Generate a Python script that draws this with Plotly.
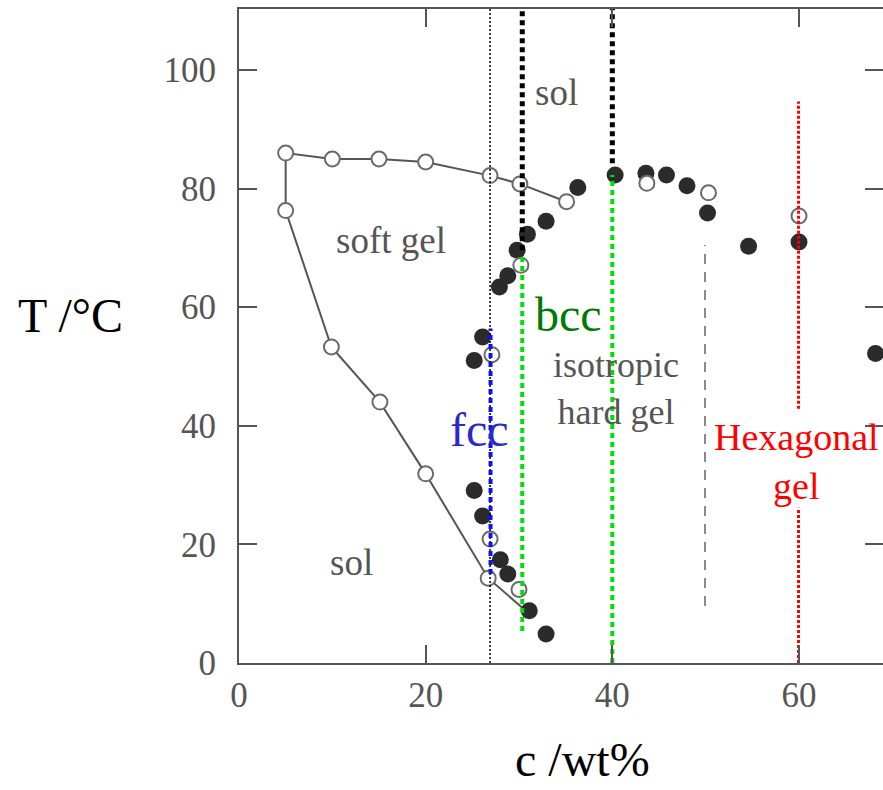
import plotly.graph_objects as go

# ---------------- data ----------------
# connected boundary curve (soft gel region): upper branch then lower branch
upper_c = [35.1, 30.1, 26.9, 20.0, 15.0, 10.0, 5.0]
upper_T = [77.8, 80.8, 82.2, 84.5, 85.0, 85.0, 86.0]
lower_c = [5.0, 9.9, 15.1, 20.0, 26.7, 30.6]
lower_T = [76.3, 53.3, 44.0, 31.9, 14.3, 9.0]

# open circles
open_c = [5.0, 10.0, 15.0, 20.0, 26.9, 30.1, 35.1,
          5.0, 9.9, 15.1, 20.0, 26.7,
          27.1, 26.9, 30.0, 30.2, 43.7, 50.3, 60.0]
open_T = [86.0, 85.0, 85.0, 84.5, 82.2, 80.8, 77.8,
          76.3, 53.3, 44.0, 31.9, 14.3,
          52.0, 20.9, 12.4, 67.1, 80.9, 79.3, 75.4]

# filled circles
fill_c = [25.2, 26.1, 25.2, 26.1, 28.0, 28.8, 31.1, 32.9,
          27.9, 28.8, 29.8, 30.9, 32.9, 36.3, 40.3, 43.6, 45.8,
          48.0, 50.2, 54.6, 60.0, 68.2]
fill_T = [51.0, 55.0, 29.1, 24.8, 17.4, 15.0, 8.8, 4.9,
          63.4, 65.3, 69.6, 72.3, 74.5, 80.2, 82.3, 82.6, 82.3,
          80.5, 75.9, 70.3, 71.0, 52.2]

# vertical phase-boundary markers: (c, T_low, T_high)
thin_black = [(26.9, 0.0, 110.3)]
thick_black = [(30.35, 69.6, 110.3), (40.0, 84.3, 110.3)]
green_bcc = [(30.35, 5.4, 68.8), (40.0, 0.0, 82.3)]
blue_fcc = [(26.95, 15.0, 56.4)]
red_hex = [(59.95, 42.9, 94.7), (59.95, 0.0, 26.2)]
gray_dash = [(49.93, 9.6, 70.5)]

x_ticks = [0, 20, 40, 60]
y_ticks = [0, 20, 40, 60, 80, 100]
x_range = [0, 69.0]
y_range = [0, 110.3]

# region labels: (text, c, T, colour, size)
labels = [
    ("sol", 34.0, 96.3, "#555555", 37),
    ("soft gel", 16.3, 71.3, "#555555", 37),
    ("sol", 12.1, 17.0, "#555555", 37),
    ("isotropic<br>hard gel", 40.4, 46.3, "#555555", 36),
    ("bcc", 35.3, 58.8, "#007a00", 48),
    ("fcc", 25.8, 39.3, "#2a2ac8", 48),
    ("Hexagonal<br>gel", 59.7, 34.0, "#ff0000", 38),
]

SERIF = "Liberation Serif, Times New Roman, serif"

fig = go.Figure()

# boundary curve
fig.add_trace(go.Scatter(
    x=upper_c + lower_c, y=upper_T + lower_T, mode="lines",
    line=dict(color="#555555", width=2), hoverinfo="skip", showlegend=False))

# filled circles
fig.add_trace(go.Scatter(
    x=fill_c, y=fill_T, mode="markers",
    marker=dict(size=17, color="#2b2b2b", line=dict(width=0)),
    showlegend=False))

# open circles
fig.add_trace(go.Scatter(
    x=open_c, y=open_T, mode="markers",
    marker=dict(size=15, color="white", line=dict(width=2, color="#6a6a6a")),
    showlegend=False))


def vlines(specs, color, width, dash):
    for c, t0, t1 in specs:
        fig.add_trace(go.Scatter(
            x=[c, c], y=[t0, t1], mode="lines",
            line=dict(color=color, width=width, dash=dash),
            hoverinfo="skip", showlegend=False, cliponaxis=True))


vlines(gray_dash, "#8a8a8a", 2, "10px,8px")
vlines(thin_black, "#000000", 1.5, "2px,2px")
vlines(thick_black, "#000000", 5, "5px,4px")
vlines(green_bcc, "#00e000", 4, "5px,4px")
vlines(blue_fcc, "#1010f0", 4, "5px,4px")
vlines(red_hex, "#ff0000", 3, "3px,2px")

# invisible trace so the right-hand tick axis is drawn
fig.add_trace(go.Scatter(x=[None], y=[None], yaxis="y2", showlegend=False))

for text, c, T, col, sz in labels:
    fig.add_annotation(x=c, y=T, xref="x", yref="y", text=text, showarrow=False,
                       font=dict(family=SERIF, size=sz, color=col),
                       xanchor="center", yanchor="middle")

# axis titles
fig.add_annotation(x=-0.262, y=0.532, xref="paper", yref="paper", text="T /°C",
                   showarrow=False, font=dict(family=SERIF, size=48, color="black"),
                   xanchor="center", yanchor="middle")
fig.add_annotation(x=0.534, y=-0.1483, xref="paper", yref="paper", text="c /wt%",
                   showarrow=False, font=dict(family=SERIF, size=48, color="black"),
                   xanchor="center", yanchor="middle")

axis_common = dict(showgrid=False, zeroline=False, ticks="inside", ticklen=18,
                   tickwidth=2, tickcolor="#555555", showline=True, linewidth=2,
                   linecolor="#555555",
                   tickfont=dict(family=SERIF, size=35, color="#555555"))

fig.update_layout(
    width=883, height=790,
    margin=dict(l=239, r=0, t=9, b=127),
    plot_bgcolor="white", paper_bgcolor="white",
    xaxis=dict(range=x_range, tickvals=x_ticks, mirror="ticks",
               ticklabelstandoff=0, **axis_common),
    yaxis=dict(range=y_range, tickvals=y_ticks, ticklabelstandoff=14,
               **axis_common),
    yaxis2=dict(range=y_range, tickvals=y_ticks, overlaying="y", side="right",
                showticklabels=False, showline=False, showgrid=False, zeroline=False,
                ticks="inside", ticklen=18, tickwidth=2, tickcolor="#555555"),
)

fig.write_html("out.html")
